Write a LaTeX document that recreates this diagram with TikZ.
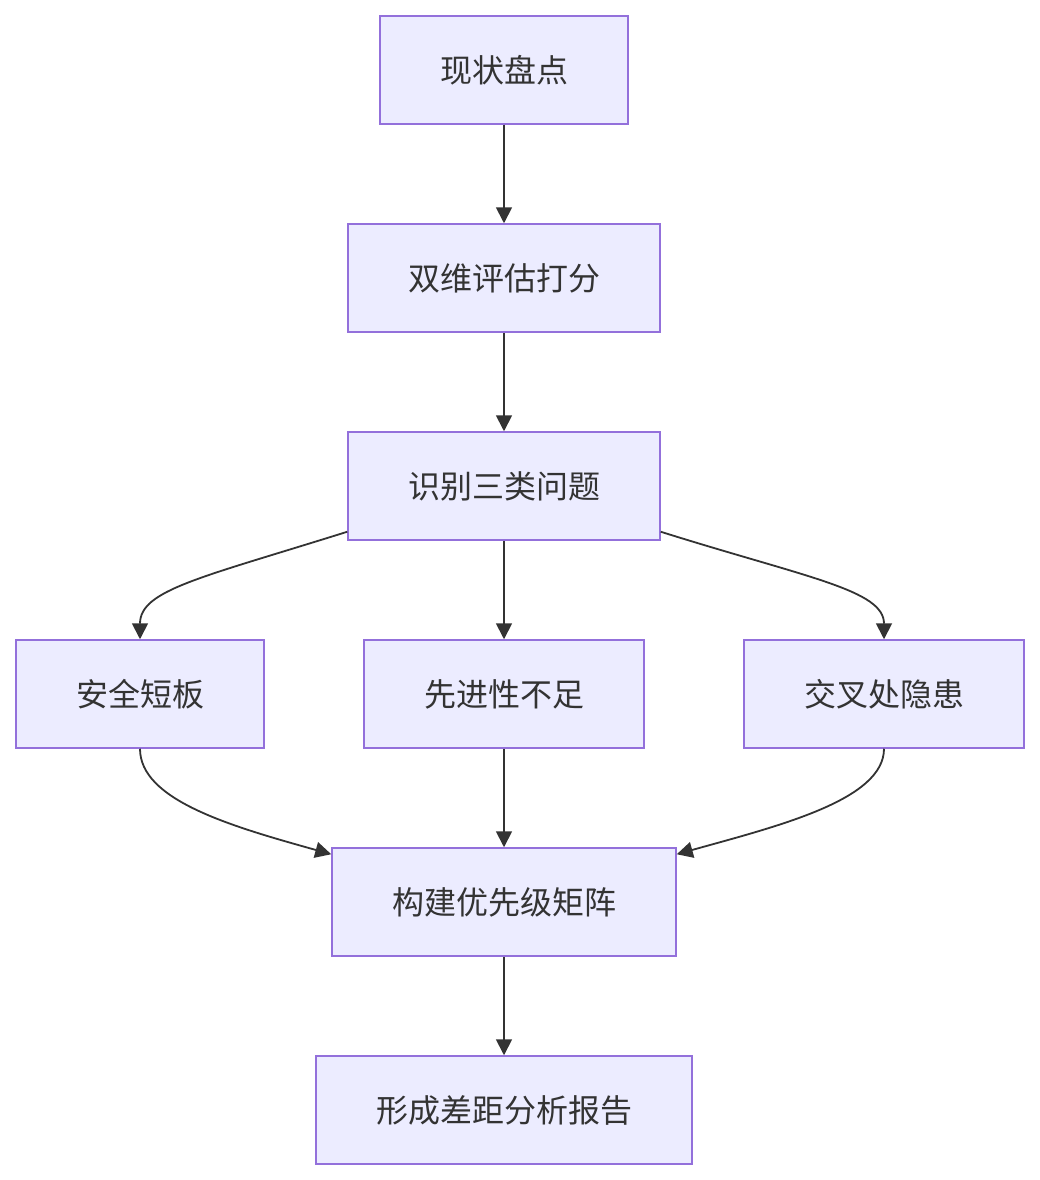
\documentclass[tikz,border=0pt]{standalone}
\usepackage{fontspec}
\setmainfont{Noto Sans CJK SC}
\usetikzlibrary{arrows.meta}
\definecolor{boxfill}{HTML}{ECECFF}
\definecolor{boxline}{HTML}{9370DB}
\definecolor{ink}{HTML}{333333}
\tikzset{
  box/.style={draw=boxline, fill=boxfill, line width=1.5pt, minimum height=108pt, inner sep=0pt,
    text=ink, font=\fontsize{32}{38}\selectfont},
  link/.style={draw=ink, line width=1.8pt, -{Triangle[length=16pt,width=16pt]}}
}
\begin{document}
\begin{tikzpicture}[x=1pt,y=-1pt]
\useasboundingbox (0,0) rectangle (1040,1180);
\node[box, minimum width=248pt] (A) at (504,70) {现状盘点};
\node[box, minimum width=312pt] (B) at (504,278) {双维评估打分};
\node[box, minimum width=312pt] (C) at (504,486) {识别三类问题};
\node[box, minimum width=248pt] (D) at (140,694) {安全短板};
\node[box, minimum width=280pt] (E) at (504,694) {先进性不足};
\node[box, minimum width=280pt] (F) at (884,694) {交叉处隐患};
\node[box, minimum width=344pt] (G) at (504,902) {构建优先级矩阵};
\node[box, minimum width=376pt] (H) at (504,1110) {形成差距分析报告};
\draw[link] (A) -- (B);
\draw[link] (B) -- (C);
\draw[link] (C) -- (E);
\draw[link] ([yshift=9pt]C.south west) .. controls (200,578) and (140,590) .. (D.north);
\draw[link] ([yshift=9pt]C.south east) .. controls (808,578) and (884,590) .. (F.north);
\draw[link] (E) -- (G);
\draw[link] (D.south) .. controls (140,800) and (230,826) .. ([yshift=-7pt]G.north west);
\draw[link] (F.south) .. controls (884,800) and (778,826) .. ([yshift=-7pt]G.north east);
\draw[link] (G) -- (H);
\end{tikzpicture}
\end{document}
